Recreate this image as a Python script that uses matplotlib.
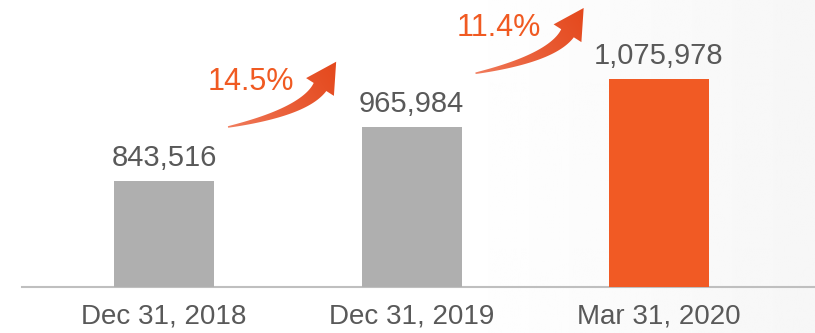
import matplotlib.pyplot as plt
import numpy as np
from matplotlib.path import Path
from matplotlib.patches import PathPatch
from matplotlib.transforms import IdentityTransform

# DADOS

datas = ['Dec 31, 2018', 'Dec 31, 2019', 'Mar 31, 2020']
valores = [843516, 965984, 1075978]
cores = ['#AFAFAF', '#AFAFAF', '#F15A24']

plt.rcParams['font.family'] = ['Liberation Sans', 'DejaVu Sans']

W, H = 815, 333
fig = plt.figure(figsize=(W / 100, H / 100), dpi=100)

# fundo com leve gradiente a direita
bg = fig.add_axes([0, 0, 1, 1], zorder=-10)
xs = np.linspace(0, 1, 400)
tom = np.where(xs < 0.55, 1.0, 1.0 - 0.035 * (xs - 0.55) / 0.45)
bg.imshow(np.tile(tom, (2, 1)), cmap='gray', vmin=0, vmax=1, aspect='auto',
          extent=[0, 1, 0, 1])
bg.set_axis_off()

# EIXO PRINCIPAL
base_px = 287
ax = fig.add_axes([0, (H - base_px) / H, 1, base_px / H])
ax.patch.set_alpha(0)
passo = 247.5
ax.set_xlim(-164 / passo, (W - 164) / passo)
ax.set_ylim(601900, 1256000)

x = np.arange(len(valores))
ax.bar(x, valores, width=100 / passo, color=cores, zorder=3)
ax.plot([22 / W, 1], [0, 0], transform=ax.transAxes, clip_on=False,
        color='#BFBFBF', lw=1.5, zorder=2)

for s in ax.spines.values():
    s.set_visible(False)
ax.set_yticks([])
ax.set_xticks(x)
ax.set_xticklabels(datas, fontsize=20, color='#595959')
ax.tick_params(axis='x', length=0, pad=12)

for i, v in enumerate(valores):
    ax.annotate(f'{v:,}', (i, v), xytext=(0, 6.5), textcoords='offset points',
                ha='center', va='bottom', fontsize=21, color='#595959')

# CRESCIMENTO + SETAS
crescimento = [valores[i + 1] / valores[i] - 1 for i in range(len(valores) - 1)]

for i, g in enumerate(crescimento):
    ax.annotate(f'{g * 100:.1f}%', (i, valores[i]), xytext=(87 * 0.72, 99 * 0.72),
                textcoords='offset points', ha='center', va='center',
                fontsize=22, color='#F05A22')

fig.canvas.draw()


def seta(x0, y0):
    # curva de bezier quadratica em pixels (y para cima)
    p0 = np.array([0.0, 0.0])
    p1 = np.array([76.0, 15.0])
    p2 = np.array([92.0, 40.0])
    t = np.linspace(0, 1, 60)[:, None]
    b = (1 - t) ** 2 * p0 + 2 * (1 - t) * t * p1 + t ** 2 * p2
    d = 2 * (1 - t) * (p1 - p0) + 2 * t * (p2 - p1)
    d = d / np.linalg.norm(d, axis=1)[:, None]
    n = np.column_stack([-d[:, 1], d[:, 0]])
    w = 1.5 + 13.5 * t ** 0.9
    sup = b + n * w / 2
    inf = b - n * w / 2
    dh = d[-1]
    nh = n[-1]
    ponta = p2 + dh * 30
    c1 = p2 + nh * 16.5
    c2 = p2 - nh * 16.5
    pts = np.vstack([inf, c2, ponta, c1, sup[::-1], inf[:1]])
    pts = pts + np.array([x0, y0])
    patch = PathPatch(Path(pts, closed=True), transform=IdentityTransform(),
                      facecolor='none', edgecolor='none')
    fig.add_artist(patch)
    # imagem com gradiente recortada pela seta
    xmin, ymin = np.floor(pts.min(axis=0)).astype(int) - 2
    xmax, ymax = np.ceil(pts.max(axis=0)).astype(int) + 2
    gx, gy = np.meshgrid(np.arange(xmin, xmax), np.arange(ymin, ymax))
    v = np.array([108.0, 67.0])
    proj = ((gx - x0) * v[0] + (gy - y0) * v[1]) / (v @ v)
    proj = np.clip(proj, 0, 1)[..., None]
    c_ini = np.array([242, 128, 98]) / 255
    c_fim = np.array([228, 72, 28]) / 255
    rgb = c_ini + (c_fim - c_ini) * proj ** 0.7
    img = np.dstack([rgb, np.ones(gx.shape)])
    im = fig.figimage(img, xo=xmin, yo=ymin, origin='lower', zorder=6)
    im.set_clip_path(patch)


for i in range(len(crescimento)):
    bx, by = ax.transData.transform((i, valores[i]))
    seta(bx + 64, by + 54)

plt.savefig('out.png', dpi=100)
